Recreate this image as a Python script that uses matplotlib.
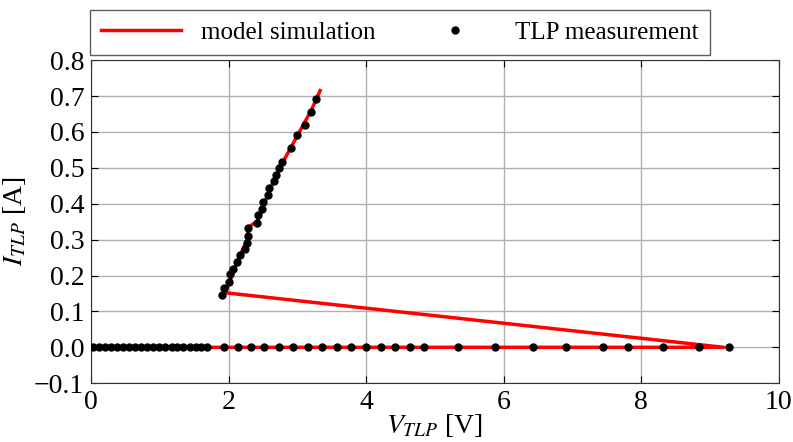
import matplotlib
matplotlib.use("Agg")
import matplotlib.pyplot as plt

plt.rcParams['font.family'] = ['Liberation Serif', 'DejaVu Serif']
plt.rcParams['mathtext.fontset'] = 'stix'

# TLP measurement: off state (I ~ 0) and on state after snapback
meas_v_off = [0.02, 0.11, 0.20, 0.29, 0.37, 0.46, 0.55, 0.64, 0.73, 0.81,
              0.90, 0.99, 1.08, 1.17, 1.25, 1.34, 1.43, 1.52, 1.60, 1.69,
              1.93, 2.14, 2.32, 2.52, 2.73, 2.93, 3.15, 3.36, 3.57, 3.78,
              3.99, 4.21, 4.42, 4.64, 4.84, 5.33, 5.87, 6.42, 6.91, 7.45,
              7.81, 8.32, 8.84, 9.28]
meas_v_on = [1.90, 1.93, 2.00, 2.02, 2.06, 2.12, 2.16, 2.24, 2.27, 2.28,
             2.28, 2.41, 2.43, 2.48, 2.50, 2.57, 2.59, 2.66, 2.69, 2.73,
             2.78, 2.90, 3.00, 3.11, 3.20, 3.27]
meas_i_on = [0.147, 0.166, 0.183, 0.203, 0.219, 0.238, 0.256, 0.273, 0.291, 0.311,
             0.331, 0.347, 0.368, 0.386, 0.406, 0.423, 0.443, 0.463, 0.481, 0.499,
             0.517, 0.555, 0.592, 0.620, 0.655, 0.691]

# model simulation curve
model_v = [0.0, 9.20, 1.95, 2.05, 2.16, 2.27, 2.29, 2.42, 2.60, 2.80, 3.00, 3.20, 3.33]
model_i = [0.0, 0.0, 0.152, 0.20, 0.255, 0.30, 0.335, 0.352, 0.44, 0.52, 0.59, 0.66, 0.715]

meas_v = meas_v_off + meas_v_on
meas_i = [0.0] * len(meas_v_off) + meas_i_on

fig = plt.figure(figsize=(7.93, 4.42), dpi=100)
ax = fig.add_axes([0.115, 0.133, 0.867, 0.731])

line, = ax.plot(model_v, model_i, color='red', lw=2.5, label='model simulation', zorder=3)
pts, = ax.plot(meas_v, meas_i, 'o', color='black', ms=5, label='TLP measurement', zorder=4)

ax.set_xlim(0, 10)
ax.set_ylim(-0.1, 0.8)
ax.set_xticks([0, 2, 4, 6, 8, 10])
ax.set_yticks([-0.1, 0.0, 0.1, 0.2, 0.3, 0.4, 0.5, 0.6, 0.7, 0.8])
ax.set_yticklabels(['\u22120.1', '0.0', '0.1', '0.2', '0.3', '0.4', '0.5', '0.6', '0.7', '0.8'])
ax.grid(True, color='#b0b0b0', lw=1)
ax.set_axisbelow(True)
ax.tick_params(direction='in', top=True, right=True, labelsize=20, length=5, pad=5)
for s in ax.spines.values():
    s.set_color('#333333')

ax.set_xlabel(r'$V_{TLP}$ [V]', fontsize=20, labelpad=-2)
ax.set_ylabel(r'$I_{TLP}$ [A]', fontsize=20, labelpad=4)

leg = fig.legend(handles=[line, pts], loc='upper left', bbox_to_anchor=(0.113, 0.977),
                 borderaxespad=0, ncol=2, fontsize=18, frameon=True, fancybox=False,
                 edgecolor='#333333', handlelength=3.2, columnspacing=1.6,
                 borderpad=0.45, handletextpad=0.8, numpoints=1)
leg.get_frame().set_linewidth(1.0)

fig.savefig('out.png', dpi=100)
